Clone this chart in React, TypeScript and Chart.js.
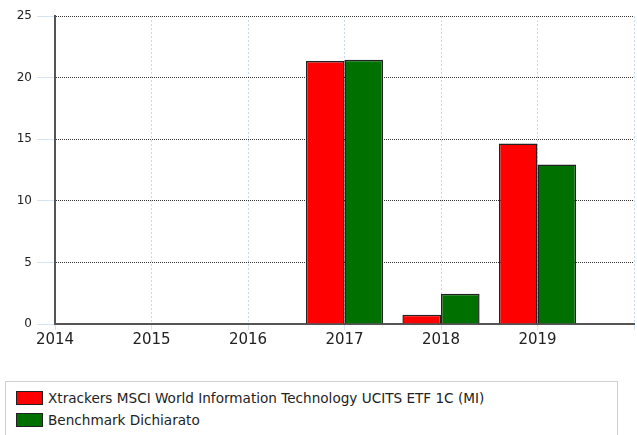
import React, { useEffect, useRef } from "react";
import { Chart, registerables } from "chart.js";

Chart.register(...registerables);

const categories = ["2014", "2015", "2016", "2017", "2018", "2019", "2020"];
const fundValues: (number | null)[] = [null, null, null, 21.35, 0.75, 14.65, null];
const benchmarkValues: (number | null)[] = [null, null, null, 21.45, 2.45, 12.95, null];
const seriesNames = [
  "Xtrackers MSCI World Information Technology UCITS ETF 1C (MI)",
  "Benchmark Dichiarato",
];
const seriesColors = ["#ff0000", "#007000"];
const yTicks = [0, 5, 10, 15, 20, 25];

export default function App() {
  const ref = useRef<HTMLCanvasElement | null>(null);

  useEffect(() => {
    document.body.style.margin = "0";
    if (!ref.current) return;
    const chart = new Chart(ref.current, {
      type: "bar",
      data: {
        labels: categories,
        datasets: [
          {
            label: seriesNames[0],
            data: fundValues,
            backgroundColor: seriesColors[0],
            borderColor: "#222",
            borderWidth: 1.5,
            categoryPercentage: 0.8,
            barPercentage: 1.0,
          },
          {
            label: seriesNames[1],
            data: benchmarkValues,
            backgroundColor: seriesColors[1],
            borderColor: "#222",
            borderWidth: 1.5,
            categoryPercentage: 0.8,
            barPercentage: 1.0,
          },
        ],
      },
      options: {
        animation: false,
        responsive: false,
        maintainAspectRatio: false,
        layout: { padding: { top: 16, right: 3, left: 0, bottom: 0 } },
        plugins: { legend: { display: false }, tooltip: { enabled: false } },
        scales: {
          x: {
            type: "category",
            offset: false,
            grid: {
              offset: false,
              color: "#c8daf0",
              tickColor: "#d6e4f2",
              tickLength: 6,
              lineWidth: 1,
            },
            border: { display: true, color: "#555", width: 2, dash: [2, 2] },
            ticks: {
              color: "#222",
              font: { family: "DejaVu Sans", size: 15 },
              padding: 1,
              maxRotation: 0,
              autoSkip: false,
              callback: (_v: any, i: number) => (i === categories.length - 1 ? "" : categories[i]),
            },
            afterFit: (s: any) => {
              s.height = 51;
            },
          },
          y: {
            min: yTicks[0],
            max: yTicks[yTicks.length - 1],
            afterBuildTicks: (s: any) => {
              s.ticks = yTicks.map((v) => ({ value: v }));
            },
            grid: {
              color: "#333",
              tickColor: "#d6e4f2",
              tickLength: 18,
              tickBorderDash: [],
              lineWidth: 1,
            },
            border: { display: true, color: "#555", width: 2, dash: [1, 1] },
            ticks: {
              color: "#222",
              font: { family: "DejaVu Sans", size: 12 },
              padding: 5,
            },
            afterFit: (s: any) => {
              s.width = 55;
            },
          },
        },
      },
    });
    return () => chart.destroy();
  }, []);

  return (
    <div style={{ position: "relative", width: 637, height: 435, background: "#fff", overflow: "hidden" }}>
      <canvas ref={ref} width={637} height={375} style={{ position: "absolute", left: 0, top: 0 }} />
      <div
        style={{
          position: "absolute",
          left: 5,
          top: 381,
          width: 613,
          height: 60,
          border: "1px solid #d0d0d0",
          boxSizing: "border-box",
          fontFamily: "DejaVu Sans",
          fontSize: 13.6,
          color: "#222",
        }}
      >
        {seriesNames.map((n, i) => (
          <div
            key={n}
            style={{ position: "absolute", left: 10, top: 8 + i * 22, height: 16, display: "flex", alignItems: "center" }}
          >
            <span
              style={{
                display: "inline-block",
                width: 27,
                height: 14,
                boxSizing: "border-box",
                border: "1px solid #222",
                background: seriesColors[i],
                marginRight: 5,
              }}
            />
            <span>{n}</span>
          </div>
        ))}
      </div>
    </div>
  );
}
